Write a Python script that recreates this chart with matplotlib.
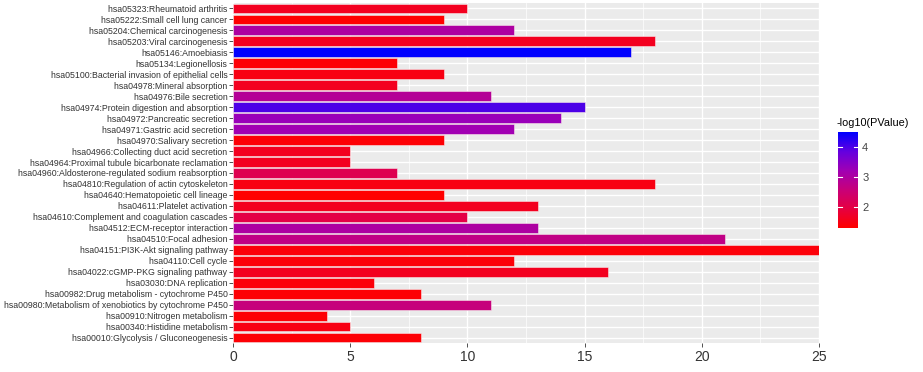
import numpy as np
import matplotlib
matplotlib.use("Agg")
import matplotlib.pyplot as plt
from matplotlib.colors import LinearSegmentedColormap, Normalize

plt.rcParams['font.family'] = ['Liberation Sans', 'DejaVu Sans']

# pathways, top to bottom
pathways = [
    "hsa05323:Rheumatoid arthritis",
    "hsa05222:Small cell lung cancer",
    "hsa05204:Chemical carcinogenesis",
    "hsa05203:Viral carcinogenesis",
    "hsa05146:Amoebiasis",
    "hsa05134:Legionellosis",
    "hsa05100:Bacterial invasion of epithelial cells",
    "hsa04978:Mineral absorption",
    "hsa04976:Bile secretion",
    "hsa04974:Protein digestion and absorption",
    "hsa04972:Pancreatic secretion",
    "hsa04971:Gastric acid secretion",
    "hsa04970:Salivary secretion",
    "hsa04966:Collecting duct acid secretion",
    "hsa04964:Proximal tubule bicarbonate reclamation",
    "hsa04960:Aldosterone-regulated sodium reabsorption",
    "hsa04810:Regulation of actin cytoskeleton",
    "hsa04640:Hematopoietic cell lineage",
    "hsa04611:Platelet activation",
    "hsa04610:Complement and coagulation cascades",
    "hsa04512:ECM-receptor interaction",
    "hsa04510:Focal adhesion",
    "hsa04151:PI3K-Akt signaling pathway",
    "hsa04110:Cell cycle",
    "hsa04022:cGMP-PKG signaling pathway",
    "hsa03030:DNA replication",
    "hsa00982:Drug metabolism - cytochrome P450",
    "hsa00980:Metabolism of xenobiotics by cytochrome P450",
    "hsa00910:Nitrogen metabolism",
    "hsa00340:Histidine metabolism",
    "hsa00010:Glycolysis / Gluconeogenesis",
]
counts = [10, 9, 12, 18, 17, 7, 9, 7, 11, 15, 14, 12, 9, 5, 5, 7,
          18, 9, 13, 10, 13, 21, 25, 12, 16, 6, 8, 11, 4, 5, 8]
logp = [1.6, 1.3, 3.0, 1.6, 4.5, 1.35, 1.5, 1.6, 2.9, 4.0, 3.3, 3.2, 1.35, 1.6, 1.6, 2.1,
        1.5, 1.3, 1.6, 2.0, 3.0, 2.7, 1.4, 1.4, 1.6, 1.4, 1.35, 2.6, 1.35, 1.5, 1.35]

# red -> blue gradient (roughly like ggplot's Lab interpolation)
cmap = LinearSegmentedColormap.from_list(
    "rb", [(0, "#FF0000"), (0.2, "#E60042"), (0.4, "#C8007A"),
           (0.6, "#A000B4"), (0.8, "#6400E0"), (1, "#0000FF")])
norm = Normalize(vmin=1.3, vmax=4.5)

fig = plt.figure(figsize=(9.23, 3.72), dpi=100)
ax = fig.add_axes([233/923, 29/372, 586/923, 340/372])

y = np.arange(len(pathways))
ax.set_facecolor("#EBEBEB")
ax.set_axisbelow(True)
ax.set_xticks([0, 5, 10, 15, 20, 25])
ax.set_xticks([2.5, 7.5, 12.5, 17.5, 22.5], minor=True)
ax.grid(True, which="major", color="white", linewidth=1.0)
ax.grid(True, which="minor", axis="x", color="white", linewidth=0.5)

ax.barh(y, counts, height=0.9, color=cmap(norm(np.array(logp))),
        edgecolor="#F8E8EA", linewidth=0.4)

ax.set_xlim(0, 25)
ax.set_ylim(len(pathways) - 0.5, -0.5)
ax.set_yticks(y)
ax.set_yticklabels(pathways, fontsize=6.3, color="#333333")
ax.tick_params(axis="x", labelsize=10, colors="#333333", length=3, width=0.6, pad=2)
ax.tick_params(axis="y", colors="#333333", length=3, width=0.6, pad=1)
ax.tick_params(which="minor", length=0)
for s in ax.spines.values():
    s.set_visible(False)

# colour bar legend
cax = fig.add_axes([838/923, (372-228)/372, 20/923, 96/372])
grad = np.linspace(1.3, 4.5, 200).reshape(-1, 1)
cax.imshow(grad, aspect="auto", cmap=cmap, norm=norm, origin="lower",
           extent=[0, 1, 1.3, 4.5])
cax.set_xlim(0, 1)
cax.set_ylim(1.3, 4.5)
cax.set_xticks([])
cax.yaxis.tick_right()
cax.set_yticks([2, 3, 4])
cax.tick_params(axis="y", length=0, labelsize=8, colors="#444444", pad=3)
for t in [2, 3, 4]:
    cax.plot([0, 0.2], [t, t], color="white", lw=0.8)
    cax.plot([0.8, 1], [t, t], color="white", lw=0.8)
for s in cax.spines.values():
    s.set_visible(False)
fig.text(837/923, (372-123)/372, "-log10(PValue)", fontsize=7.8, va="center", ha="left")

fig.savefig("out.png", dpi=100)
